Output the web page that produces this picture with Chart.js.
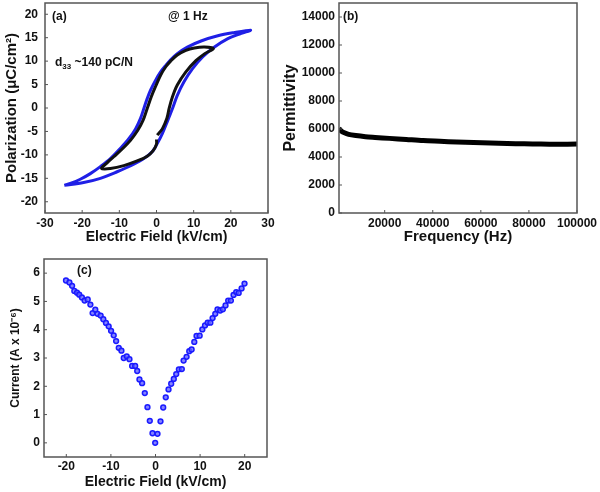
<!DOCTYPE html>
<html><head><meta charset="utf-8">
<script src="https://cdn.jsdelivr.net/npm/chart.js@4"></script>
<style>
html,body{margin:0;padding:0;background:#fff;width:600px;height:492px;overflow:hidden;}
canvas{position:absolute;}
.lbl{position:absolute;font:bold 12px "Liberation Sans",Arial,sans-serif;color:#111;line-height:14px;white-space:nowrap;}
.lbl sub{font-size:8px;vertical-align:-3px;}
</style></head>
<body>
<canvas id="ca" width="290" height="246" style="left:0;top:0"></canvas>
<canvas id="cb" width="320" height="246" style="left:280px;top:0"></canvas>
<canvas id="cc" width="290" height="242" style="left:0;top:250px"></canvas>
<div class="lbl" style="left:52px;top:9px">(a)</div>
<div class="lbl" style="left:168px;top:9px">@ 1 Hz</div>
<div class="lbl" style="left:55px;top:55px">d<sub>33</sub> ~140 pC/N</div>
<div class="lbl" style="left:343px;top:9px">(b)</div>
<div class="lbl" style="left:77px;top:263px">(c)</div>
<script>
// ---- (a) P-E loops ----
const blueE = [-24.8,-23.2,-20.5,-17.8,-15.1,-12.4,-9.7,-7.4,-5.6,-4.3,-3.4,-2.5,-1.6,-0.2,1.1,2.5,3.8,5.6,8.3,12.0,16.5,21.0,25.3,
               22.8,19.2,15.6,12.4,9.7,7.4,5.6,4.3,2.9,1.6,0.2,-1.1,-3.4,-6.1,-10.6,-15.1,-19.6,-24.8];
const blueP = [-16.5,-16.1,-15.2,-14.0,-12.5,-10.8,-8.6,-6.5,-4.4,-2.2,-0.1,2.0,3.8,6.0,7.7,9.1,10.3,11.6,13.0,14.3,15.4,16.1,16.6,
               15.9,14.8,13.0,10.9,8.4,5.6,2.7,-0.1,-2.9,-5.4,-7.6,-9.3,-10.8,-12.0,-13.6,-15.0,-15.9,-16.5];
const blackE = [0.2,1.6,2.8,3.4,4.3,5.6,7.9,10.6,13.0,15.3,
                12.9,10.2,7.9,5.6,3.8,2.5,1.1,-0.2,-1.4,-2.5,-3.6,-5.0,-7.0,-9.3,-11.5,-13.3,-14.8,
                -12.4,-8.8,-5.2,-2.5,-0.9,0.0,0.0];
const blackP = [-5.8,-4.4,-2.2,-0.1,2.4,4.9,7.7,10.1,11.6,12.7,
                13.0,12.8,12.3,11.3,10.0,8.8,7.0,4.7,2.4,-0.1,-2.6,-4.7,-6.9,-8.8,-10.4,-11.7,-12.9,
                -12.9,-12.3,-11.3,-10.3,-9.1,-7.7,-6.7];
const aXTicks = [-30,-20,-10,0,10,20,30];
const aYTicks = [-20,-15,-10,-5,0,5,10,15,20];

// ---- (b) permittivity vs frequency ----
const freqHz = [1000,2000,3000,5000,8000,12000,16000,22000,29000,36000,43000,50000,57000,64000,71000,78000,85000,92000,100000];
const permittivity = [6050,5850,5750,5620,5530,5450,5400,5330,5250,5170,5120,5070,5030,5000,4960,4940,4920,4910,4920];
const bXTicks = [20000,40000,60000,80000,100000];
const bYTicks = [0,2000,4000,6000,8000,10000,12000,14000];

// ---- (c) I-E ----
const currentE = [-20.07,-19.3,-18.7,-18.2,-17.6,-17.1,-16.5,-15.9,-15.2,-14.6,-14.1,-13.5,-13.0,-12.3,-11.7,-11.1,-10.5,-9.96,-9.37,-8.83,-8.24,-7.64,-7.12,-6.45,-5.84,-5.24,-4.56,-4.1,-3.6,-3.0,-2.4,-1.8,-1.28,-0.67,-0.07,
                  0.45,1.12,1.73,2.3,2.92,3.52,4.1,4.65,5.24,5.9,6.3,6.97,7.57,8.1,8.7,9.2,9.9,10.5,11.1,11.7,12.3,12.8,13.4,13.9,14.5,15.1,15.7,16.3,16.9,17.5,18.1,18.65,19.3,19.96];
const currentI = [5.74,5.67,5.55,5.37,5.31,5.24,5.14,5.03,5.07,4.89,4.59,4.71,4.56,4.50,4.37,4.24,4.12,3.96,3.80,3.60,3.36,3.26,3.00,3.06,2.96,2.72,2.72,2.54,2.24,2.11,1.76,1.26,0.78,0.34,0.0,
                  0.32,0.76,1.25,1.61,1.89,2.09,2.26,2.43,2.60,2.61,2.91,3.04,3.24,3.30,3.57,3.78,3.79,4.01,4.15,4.25,4.25,4.41,4.56,4.72,4.68,4.72,4.86,5.03,5.03,5.23,5.33,5.30,5.46,5.63];
const cXTicks = [-20,-10,0,10,20];
const cYTicks = [0,1,2,3,4,5,6];

const FONT = '"Liberation Sans", Arial, sans-serif';
Chart.defaults.font.family = FONT;
Chart.defaults.color = '#111';

const toPts = (xs, ys) => xs.map((x, i) => ({x, y: ys[i]}));
const setTicks = arr => (s) => { s.ticks = arr.map(v => ({value: v})); };

const framePlugin = {
  id: 'frame',
  afterDatasetsDraw(chart) {
    const {ctx, chartArea: a, scales} = chart;
    ctx.save();
    ctx.strokeStyle = '#555';
    ctx.lineWidth = 1.5;
    ctx.strokeRect(a.left, a.top, a.right - a.left, a.bottom - a.top);
    ctx.lineWidth = 1;
    ctx.beginPath();
    scales.x.ticks.forEach(t => { const p = scales.x.getPixelForValue(t.value); ctx.moveTo(p, a.bottom); ctx.lineTo(p, a.bottom - 3); });
    scales.y.ticks.forEach(t => { const p = scales.y.getPixelForValue(t.value); ctx.moveTo(a.left, p); ctx.lineTo(a.left + 3, p); });
    ctx.stroke();
    ctx.restore();
  }
};

function axis(opts) {
  return {
    type: 'linear',
    min: opts.min, max: opts.max,
    afterBuildTicks: setTicks(opts.ticks),
    afterFit: (s) => {
      if (s.isHorizontal()) { s.height = opts.size; } else { s.width = opts.size; }
      s.paddingTop = 0; s.paddingBottom = 0; s.paddingLeft = 0; s.paddingRight = 0;
    },
    grid: {display: false, drawTicks: false},
    border: {display: false},
    ticks: {font: {size: 12, weight: 'bold'}, color: '#111', padding: opts.pad, autoSkip: false, maxRotation: 0,
            callback: v => String(v)},
    title: {display: true, text: opts.title, color: '#111', font: {size: opts.tsize, weight: 'bold'}, padding: opts.tpad}
  };
}

const common = {
  responsive: false, animation: false, devicePixelRatio: 1,
  plugins: {legend: {display: false}, tooltip: {enabled: false}},
};

new Chart(document.getElementById('ca'), {
  type: 'scatter',
  data: {datasets: [
    {data: toPts(blackE, blackP), showLine: true, borderColor: '#111', borderWidth: 3, pointRadius: 0, tension: 0.35, order: 1},
    {data: toPts(blueE, blueP), showLine: true, borderColor: '#1f1fe6', borderWidth: 3, pointRadius: 0, tension: 0.35, order: 2}
  ]},
  options: Object.assign({}, common, {
    layout: {padding: {left: 0, right: 22, top: 3, bottom: 0}},
    scales: {
      x: axis({min: -30, max: 30, ticks: aXTicks, size: 33, pad: 3, title: 'Electric Field (kV/cm)', tsize: 14, tpad: {top: 0, bottom: 0}}),
      y: axis({min: -22.4, max: 22.4, ticks: aYTicks, size: 45, pad: 7, title: 'Polarization (\u03bcC/cm\u00b2)', tsize: 15, tpad: {top: 3, bottom: 0}})
    }
  }),
  plugins: [framePlugin]
});

new Chart(document.getElementById('cb'), {
  type: 'scatter',
  data: {datasets: [
    {data: toPts(freqHz, permittivity), showLine: true, borderColor: '#000', borderWidth: 5, pointRadius: 0, tension: 0.3}
  ]},
  options: Object.assign({}, common, {
    layout: {padding: {left: 0, right: 23, top: 3, bottom: 0}},
    scales: {
      x: axis({min: 1000, max: 100000, ticks: bXTicks, size: 33, pad: 3, title: 'Frequency (Hz)', tsize: 15, tpad: {top: 0, bottom: 0}}),
      y: axis({min: 0, max: 15000, ticks: bYTicks, size: 59, pad: 4, title: 'Permittivity', tsize: 16, tpad: {top: 1, bottom: 0}})
    }
  }),
  plugins: [framePlugin]
});

new Chart(document.getElementById('cc'), {
  type: 'scatter',
  data: {datasets: [
    {data: toPts(currentE, currentI), showLine: false, borderColor: '#1a1aff', backgroundColor: 'rgba(100,100,255,0.8)', borderWidth: 1.5, pointRadius: 2.4}
  ]},
  options: Object.assign({}, common, {
    layout: {padding: {left: 0, right: 23, top: 9, bottom: 0}},
    scales: {
      x: axis({min: -25, max: 25, ticks: cXTicks, size: 35, pad: 2, title: 'Electric Field (kV/cm)', tsize: 14, tpad: {top: 0, bottom: 1}}),
      y: axis({min: -0.5, max: 6.5, ticks: cYTicks, size: 44, pad: 4, title: 'Current (A x 10\u207b\u2076)', tsize: 12, tpad: {top: 8, bottom: 0}})
    }
  }),
  plugins: [framePlugin]
});
</script>
</body></html>
